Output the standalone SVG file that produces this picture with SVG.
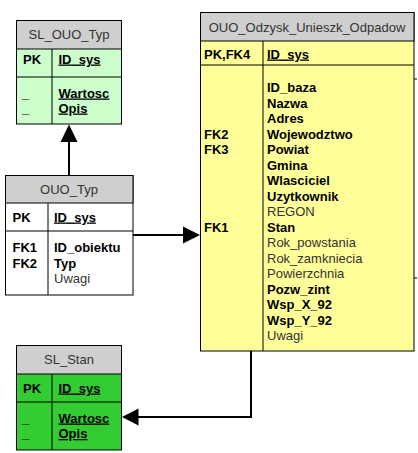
<svg xmlns="http://www.w3.org/2000/svg" width="418" height="453" viewBox="0 0 418 453">
<defs>
<style>
text{font-family:"Liberation Sans",Arial,sans-serif;font-size:13px;fill:#000}
.h{fill:#333;text-anchor:middle}
.b{font-weight:bold}
.u{font-weight:bold;text-decoration:underline}
.n{fill:#333}
.box{stroke:#000;stroke-width:1}
.hd{fill:#cfcfcf}
.ln{stroke:#000;stroke-width:1;fill:none}
.con{stroke:#000;stroke-width:2;fill:none}
.ah{fill:#000}
</style>
</defs>
<rect width="418" height="453" fill="#fff"/>
<g id="connectors">
<line class="con" x1="69" y1="175" x2="69" y2="141"/>
<polygon class="ah" points="69,124.5 60.5,142 77.5,142"/>
<line class="con" x1="133" y1="235" x2="184" y2="235"/>
<polygon class="ah" points="200,235 183,226.5 183,243.5"/>
<polyline class="con" points="251,351 251,417 137,417"/>
<polygon class="ah" points="122,417 138.5,408.5 138.5,425.5"/>
<line class="ln" x1="414" y1="79" x2="417" y2="79"/>
<line class="ln" x1="414" y1="278" x2="417" y2="278"/>
</g>
<g id="SL_OUO_Typ">
<rect class="box" x="16.5" y="20.5" width="105" height="103.5" fill="#ccffcc"/>
<rect class="box hd" x="16.5" y="20.5" width="105" height="28.5"/>
<line class="ln" x1="16.5" y1="77" x2="121.5" y2="77"/>
<line class="ln" x1="52" y1="49" x2="52" y2="124"/>
<text class="h" x="69" y="38.5">SL_OUO_Typ</text>
<text class="b" x="23" y="63.5">PK</text>
<text class="u" x="58.5" y="63.5">ID_sys</text>
<text class="b" x="22" y="97.5">_</text>
<text class="b" x="22" y="112.5">_</text>
<text class="u" x="58.5" y="97.5">Wartosc</text>
<text class="u" x="58.5" y="112.5">Opis</text>
</g>
<g id="OUO_Typ">
<rect class="box" x="5.5" y="175.5" width="127.5" height="119.5" fill="#fff"/>
<rect class="box hd" x="5.5" y="175.5" width="127.5" height="27.5"/>
<line class="ln" x1="5.5" y1="231" x2="133" y2="231"/>
<line class="ln" x1="48" y1="203" x2="48" y2="295"/>
<text class="h" x="69" y="193.5">OUO_Typ</text>
<text class="b" x="12.5" y="221.5">PK</text>
<text class="u" x="54" y="221.5">ID_sys</text>
<text class="b" x="12.5" y="252">FK1</text>
<text class="b" x="12.5" y="267.5">FK2</text>
<text class="b" x="54" y="252">ID_obiektu</text>
<text class="b" x="54" y="267.5">Typ</text>
<text class="n" x="54" y="283">Uwagi</text>
</g>
<g id="SL_Stan">
<rect class="box" x="16.5" y="345.5" width="105" height="104.5" fill="#33cc33"/>
<rect class="box hd" x="16.5" y="345.5" width="105" height="28.5"/>
<line class="ln" x1="16.5" y1="402" x2="121.5" y2="402"/>
<line class="ln" x1="52" y1="374" x2="52" y2="450"/>
<text class="h" x="69" y="363.5">SL_Stan</text>
<text class="b" x="23" y="392.5">PK</text>
<text class="u" x="58.5" y="392.5">ID_sys</text>
<text class="b" x="22" y="423">_</text>
<text class="b" x="22" y="438">_</text>
<text class="u" x="58.5" y="422.5">Wartosc</text>
<text class="u" x="58.5" y="438">Opis</text>
</g>
<g id="OUO_Odzysk_Unieszk_Odpadow">
<rect class="box" x="200.5" y="12.5" width="213.5" height="338.5" fill="#ffff99"/>
<rect class="box hd" x="200.5" y="12.5" width="213.5" height="28.5"/>
<line class="ln" x1="200.5" y1="65" x2="414" y2="65"/>
<line class="ln" x1="263" y1="41" x2="263" y2="351"/>
<text class="h" x="307" y="32">OUO_Odzysk_Unieszk_Odpadow</text>
<text class="b" x="204" y="58.5">PK,FK4</text>
<text class="u" x="267" y="58.5">ID_sys</text>
<text class="b" x="204" y="138.8">FK2</text>
<text class="b" x="204" y="154.3">FK3</text>
<text class="b" x="204" y="231.8">FK1</text>
<text class="b" x="267" y="92.3">ID_baza</text>
<text class="b" x="267" y="107.8">Nazwa</text>
<text class="b" x="267" y="123.3">Adres</text>
<text class="b" x="267" y="138.8">Wojewodztwo</text>
<text class="b" x="267" y="154.3">Powiat</text>
<text class="b" x="267" y="169.8">Gmina</text>
<text class="b" x="267" y="185.3">Wlasciciel</text>
<text class="b" x="267" y="200.8">Uzytkownik</text>
<text class="n" x="267" y="216.3">REGON</text>
<text class="b" x="267" y="231.8">Stan</text>
<text class="n" x="267" y="247.3">Rok_powstania</text>
<text class="n" x="267" y="262.8">Rok_zamkniecia</text>
<text class="n" x="267" y="278.3">Powierzchnia</text>
<text class="b" x="267" y="293.8">Pozw_zint</text>
<text class="b" x="267" y="309.3">Wsp_X_92</text>
<text class="b" x="267" y="324.8">Wsp_Y_92</text>
<text class="n" x="267" y="340.3">Uwagi</text>
</g>
</svg>
